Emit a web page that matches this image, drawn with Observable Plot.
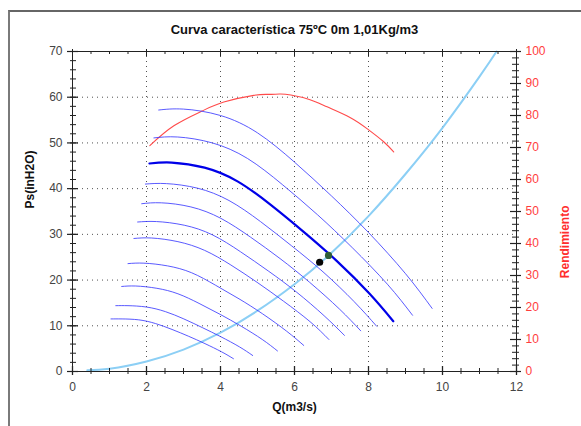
<!DOCTYPE html>
<html><head><meta charset="utf-8">
<script src="https://cdn.jsdelivr.net/npm/d3@7"></script>
<script src="https://cdn.jsdelivr.net/npm/@observablehq/plot@0.6"></script>
<style>
body{margin:0;background:#fff;}
#wrap{position:relative;width:581px;height:426px;overflow:hidden;font-family:"Liberation Sans",Arial,sans-serif;background:#fff;}
#border{position:absolute;left:8px;top:10px;width:700px;height:600px;border-left:2px solid #7a7a7a;border-top:2px solid #666;}
#chart{position:absolute;left:0;top:0;}
</style></head><body>
<div id="wrap"><div id="border"></div><div id="chart"></div></div>
<script>
const title = "Curva característica 75ºC 0m 1,01Kg/m3";
const xLabel = "Q(m3/s)";
const yLabel = "Ps(inH2O)";
const y2Label = "Rendimiento";
const xTicks = [0, 2, 4, 6, 8, 10, 12];
const yTicks = [0, 10, 20, 30, 40, 50, 60, 70];
const effTicks = [0, 10, 20, 30, 40, 50, 60, 70, 80, 90, 100];
const xGrid = [2, 4, 6, 8, 10];
const yGrid = [10, 20, 30, 40, 50, 60];

// fan curves (top to bottom)
const fanQ = [
  [2.33, 3.00, 4.00, 5.00, 6.00, 7.00, 8.00, 9.00, 9.72],
  [2.20, 2.84, 3.78, 4.73, 5.67, 6.62, 7.56, 8.51, 9.19],
  [2.08, 2.68, 3.57, 4.46, 5.35, 6.24, 7.14, 8.03, 8.67],
  [1.97, 2.54, 3.38, 4.23, 5.08, 5.92, 6.77, 7.61, 8.22],
  [1.87, 2.40, 3.20, 4.01, 4.81, 5.61, 6.41, 7.21, 7.79],
  [1.76, 2.27, 3.02, 3.78, 4.54, 5.29, 6.05, 6.80, 7.35],
  [1.66, 2.14, 2.85, 3.57, 4.28, 4.99, 5.70, 6.42, 6.93],
  [1.50, 1.93, 2.57, 3.22, 3.86, 4.50, 5.14, 5.79, 6.25],
  [1.33, 1.71, 2.28, 2.85, 3.42, 3.99, 4.56, 5.13, 5.54],
  [1.17, 1.50, 2.00, 2.51, 3.01, 3.51, 4.01, 4.51, 4.87],
  [1.04, 1.34, 1.79, 2.24, 2.69, 3.14, 3.58, 4.03, 4.35]
];
const fanPs = [
  [57.2, 57.4, 56.0, 52.2, 45.8, 38.4, 30.4, 21.4, 13.8],
  [51.1, 51.3, 50.0, 46.6, 40.9, 34.3, 27.1, 19.1, 12.3],
  [45.5, 45.7, 44.6, 41.6, 36.5, 30.6, 24.2, 17.0, 11.0],
  [41.0, 41.1, 40.1, 37.4, 32.8, 27.5, 21.8, 15.3, 9.9],
  [36.7, 36.9, 36.0, 33.5, 29.4, 24.7, 19.5, 13.7, 8.9],
  [32.7, 32.8, 32.0, 29.9, 26.2, 22.0, 17.4, 12.2, 7.9],
  [29.1, 29.2, 28.4, 26.5, 23.3, 19.5, 15.4, 10.9, 7.0],
  [23.6, 23.7, 23.1, 21.6, 18.9, 15.9, 12.6, 8.8, 5.7],
  [18.6, 18.7, 18.2, 17.0, 14.9, 12.5, 9.9, 7.0, 4.5],
  [14.4, 14.4, 14.1, 13.1, 11.5, 9.6, 7.6, 5.4, 3.5],
  [11.5, 11.5, 11.3, 10.5, 9.2, 7.7, 6.1, 4.3, 2.8]
];
const selectedCurve = 2;

// system curve
const sysQ = [0.4, 1.0, 2.0, 3.0, 4.0, 5.0, 6.0, 6.9, 8.0, 9.0, 10.0, 11.0, 11.46];
const sysPs = [0.3, 0.6, 2.2, 4.8, 8.5, 13.3, 19.1, 25.2, 34.0, 43.2, 53.3, 64.5, 70.0];

// efficiency (right axis, %)
const effQ = [2.09, 2.74, 3.50, 4.09, 4.90, 5.30, 5.60, 5.90, 6.40, 6.88, 7.50, 7.96, 8.41, 8.68];
const eff = [70.6, 76.8, 81.4, 84.2, 86.3, 86.6, 86.7, 86.4, 85.0, 82.7, 79.4, 75.9, 71.8, 68.6];

// operating points
const opQ = [6.68, 6.92];
const opPs = [23.9, 25.4];
const opColor = ["#050505", "#2f5e38"];

const W = 581, H = 426, mL = 72, mR = 65, mT = 51, mB = 55;
const innerW = W - mL - mR, innerH = H - mT - mB;
const yMax = 70, effMax = 100, k = yMax / effMax;

const fanRows = fanQ.flatMap((qs, i) => qs.map((q, j) => ({curve: i, q, ps: fanPs[i][j]})));
const sysRows = sysQ.map((q, i) => ({q, ps: sysPs[i]}));
const effRows = effQ.map((q, i) => ({q, y: eff[i] * k}));
const opRows = opQ.map((q, i) => ({q, ps: opPs[i], c: opColor[i]}));

const minorX = d3.range(0, 12.001, 0.5);
const majorX = d3.range(0, 12.001, 2);
const minorY = d3.range(0, 70.001, 2);
const majorY = d3.range(0, 70.001, 10);
const minorE = d3.range(0, 100.001, 2).map(v => v * k);
const majorE = d3.range(0, 100.001, 10).map(v => v * k);

const gridStyle = {stroke: "#333", strokeOpacity: 0.85, strokeDasharray: "1,4", strokeWidth: 1};

const chart = Plot.plot({
  width: W, height: H,
  marginLeft: mL, marginRight: mR, marginTop: mT, marginBottom: mB,
  x: {domain: [0, 12]},
  y: {domain: [0, yMax]},
  style: {fontFamily: "Liberation Sans, Arial, sans-serif", fontSize: "12px", background: "transparent", overflow: "visible"},
  marks: [
    Plot.ruleX(xGrid, {x: d => d, ...gridStyle}),
    Plot.ruleY(yGrid, {y: d => d, ...gridStyle}),
    Plot.line(sysRows, {x: "q", y: "ps", stroke: "#8ccff5", strokeWidth: 2, curve: "natural"}),
    Plot.line(effRows, {x: "q", y: "y", stroke: "#ff4a4a", strokeWidth: 1.1, curve: "natural"}),
    Plot.line(fanRows.filter(d => d.curve !== selectedCurve), {x: "q", y: "ps", z: "curve", stroke: "#3d3dff", strokeWidth: 1, strokeOpacity: 0.85, curve: "natural"}),
    Plot.line(fanRows.filter(d => d.curve === selectedCurve), {x: "q", y: "ps", stroke: "#0000e8", strokeWidth: 2.2, curve: "natural"}),
    Plot.dot(opRows, {x: "q", y: "ps", fill: "c", r: 3.6}),
    Plot.frame({stroke: "#222", strokeWidth: 1}),
    // bottom ticks crossing
    Plot.tickX(minorX, {x: d => d, stroke: "#222", insetTop: innerH - 3, insetBottom: -3}),
    Plot.tickX(majorX, {x: d => d, stroke: "#222", strokeWidth: 1.3, insetTop: innerH - 5, insetBottom: -4}),
    // top ticks inward
    Plot.tickX(minorX, {x: d => d, stroke: "#222", insetBottom: innerH - 3, insetTop: 0}),
    Plot.tickX(majorX, {x: d => d, stroke: "#222", insetBottom: innerH - 5, insetTop: -2}),
    // left ticks
    Plot.tickY(minorY, {y: d => d, stroke: "#222", insetRight: innerW - 4, insetLeft: -2}),
    Plot.tickY(majorY, {y: d => d, stroke: "#222", strokeWidth: 1.2, insetRight: innerW - 6, insetLeft: -5}),
    // right ticks
    Plot.tickY(minorE, {y: d => d, stroke: "#222", insetLeft: innerW - 4, insetRight: -3}),
    Plot.tickY(majorE, {y: d => d, stroke: "#222", strokeWidth: 1.2, insetLeft: innerW - 6, insetRight: -5}),
    Plot.axisX({ticks: xTicks, tickSize: 0, tickPadding: 11, label: null, color: "#444", fontSize: 12}),
    Plot.axisY({ticks: yTicks, tickSize: 0, tickPadding: 10, label: null, color: "#444", fontSize: 12}),
    Plot.axisY({anchor: "right", ticks: effTicks.map(v => v * k), tickFormat: d => String(Math.round(d / k)), tickSize: 0, tickPadding: 9, label: null, color: "#ff3d3d", fontSize: 12}),
    Plot.text([title], {frameAnchor: "top", dy: -27, text: d => d, fontWeight: "bold", fontSize: 13, fill: "#111"}),
    Plot.text([xLabel], {frameAnchor: "bottom", dy: 39, text: d => d, fontWeight: "bold", fontSize: 12, fill: "#111"}),
    Plot.text([yLabel], {frameAnchor: "left", dx: -42, dy: -3, rotate: -90, text: d => d, fontWeight: "bold", fontSize: 12, fill: "#111"}),
    Plot.text([y2Label], {frameAnchor: "right", dx: 49, dy: -6, rotate: -90, text: d => d, fontWeight: "bold", fontSize: 12, fill: "#ff2d2d"})
  ]
});
document.getElementById("chart").appendChild(chart);
</script>
</body></html>
